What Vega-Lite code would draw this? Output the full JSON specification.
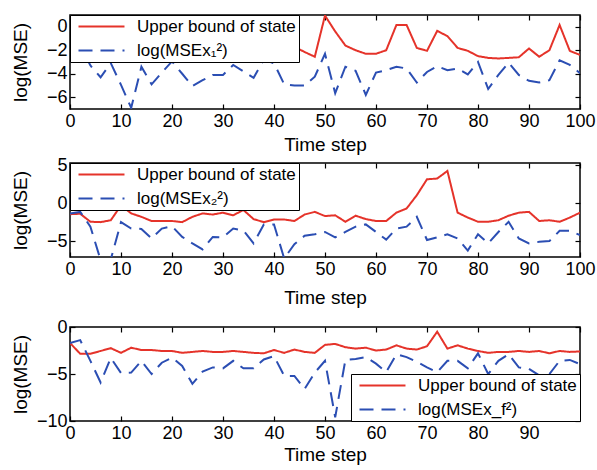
{
  "$schema": "https://vega.github.io/schema/vega-lite/v6.json",
  "padding": {"left": 10, "top": 13, "right": 0, "bottom": 4},
  "background": "white",
  "config": {
    "view": {"stroke": "black", "strokeWidth": 1.5},
    "font": "Liberation Sans",
    "axis": {
      "labelFont": "Liberation Sans", "labelFontSize": 18, "labelColor": "black",
      "titleFont": "Liberation Sans", "titleFontSize": 19, "titleFontWeight": 400, "titleColor": "black",
      "grid": false, "domain": false, "tickColor": "black", "tickSize": -5, "tickWidth": 1.2,
      "labelFlush": false, "labelOverlap": false, "labelPadding": 8
    },
    "legend": {
      "labelFont": "Liberation Sans", "labelFontSize": 17, "labelColor": "black",
      "symbolSize": 36, "symbolStrokeWidth": 2,
      "strokeColor": "black", "fillColor": "white", "padding": 3, "offset": 0,
      "rowPadding": 6, "zindex": 1, "labelOffset": 47, "cornerRadius": 0
    },
    "line": {"strokeWidth": 2}
  },
  "datasets": {
    "p1": [
      {"t":0,"u":-1.6,"m":-1.2},{"t":2,"u":-2.0,"m":-1.6},{"t":4,"u":-1.8,"m":-3.3},{"t":6,"u":-2.1,"m":-4.3},{"t":8,"u":-1.9,"m":-3.1},
      {"t":10,"u":-2.2,"m":-4.95},{"t":12,"u":-1.7,"m":-6.9},{"t":14,"u":-2.0,"m":-3.4},{"t":16,"u":-2.3,"m":-4.9},{"t":18,"u":-1.9,"m":-3.9},
      {"t":20,"u":-2.1,"m":-2.95},{"t":22,"u":-1.8,"m":-4.0},{"t":24,"u":-2.2,"m":-5.05},{"t":26,"u":-2.0,"m":-4.55},{"t":28,"u":-1.7,"m":-4.1},
      {"t":30,"u":-2.1,"m":-4.1},{"t":32,"u":-2.3,"m":-3.25},{"t":34,"u":-1.9,"m":-3.8},{"t":36,"u":-2.0,"m":-4.35},{"t":38,"u":-2.2,"m":-2.8},
      {"t":40,"u":-1.8,"m":-3.1},{"t":42,"u":-2.0,"m":-4.9},{"t":44,"u":-1.7,"m":-5.0},{"t":46,"u":-2.15,"m":-5.0},{"t":48,"u":-2.55,"m":-4.25},
      {"t":50,"u":0.95,"m":-2.3},{"t":52,"u":-0.4,"m":-5.65},{"t":54,"u":-1.6,"m":-3.4},{"t":56,"u":-2.0,"m":-3.75},{"t":58,"u":-2.3,"m":-5.8},
      {"t":60,"u":-2.3,"m":-3.9},{"t":62,"u":-2.0,"m":-3.7},{"t":64,"u":0.15,"m":-3.4},{"t":66,"u":0.15,"m":-3.55},{"t":68,"u":-1.8,"m":-4.75},
      {"t":70,"u":-2.05,"m":-3.85},{"t":72,"u":-0.35,"m":-3.35},{"t":74,"u":-0.8,"m":-3.7},{"t":76,"u":-1.8,"m":-3.55},{"t":78,"u":-2.05,"m":-4.05},
      {"t":80,"u":-2.5,"m":-3.0},{"t":82,"u":-2.65,"m":-5.3},{"t":84,"u":-2.7,"m":-4.1},{"t":86,"u":-2.65,"m":-3.05},{"t":88,"u":-2.6,"m":-4.1},
      {"t":90,"u":-1.85,"m":-4.6},{"t":92,"u":-2.55,"m":-4.75},{"t":94,"u":-2.0,"m":-4.55},{"t":96,"u":0.15,"m":-2.85},{"t":98,"u":-2.05,"m":-3.25},
      {"t":100,"u":-2.4,"m":-3.95}
    ],
    "p2": [
      {"t":0,"u":-1.45,"m":-1.35},{"t":2,"u":-1.4,"m":-1.15},{"t":4,"u":-2.45,"m":-3.1},{"t":6,"u":-2.5,"m":-7.5},{"t":8,"u":-2.25,"m":-7.4},
      {"t":10,"u":-0.3,"m":-2.5},{"t":12,"u":-1.35,"m":-3.35},{"t":14,"u":-1.8,"m":-3.4},{"t":16,"u":-2.35,"m":-4.65},{"t":18,"u":-2.35,"m":-3.35},
      {"t":20,"u":-2.35,"m":-3.05},{"t":22,"u":-2.5,"m":-4.45},{"t":24,"u":-1.8,"m":-5.3},{"t":26,"u":-1.35,"m":-6.1},{"t":28,"u":-1.5,"m":-4.45},
      {"t":30,"u":-1.25,"m":-4.5},{"t":32,"u":-1.6,"m":-3.35},{"t":34,"u":-0.9,"m":-3.6},{"t":36,"u":-2.1,"m":-5.3},{"t":38,"u":-2.5,"m":-2.8},
      {"t":40,"u":-2.15,"m":-2.8},{"t":42,"u":-2.15,"m":-7.3},{"t":44,"u":-2.35,"m":-5.4},{"t":46,"u":-1.5,"m":-4.3},{"t":48,"u":-1.15,"m":-4.1},
      {"t":50,"u":-1.7,"m":-3.8},{"t":52,"u":-1.6,"m":-4.5},{"t":54,"u":-2.45,"m":-3.8},{"t":56,"u":-1.65,"m":-3.1},{"t":58,"u":-2.1,"m":-2.8},
      {"t":60,"u":-2.35,"m":-3.8},{"t":62,"u":-2.35,"m":-4.8},{"t":64,"u":-1.25,"m":-3.35},{"t":66,"u":-0.7,"m":-3.1},{"t":68,"u":1.05,"m":-1.8},
      {"t":70,"u":3.15,"m":-4.85},{"t":72,"u":3.25,"m":-4.5},{"t":74,"u":4.25,"m":-4.1},{"t":76,"u":-1.25,"m":-4.65},{"t":78,"u":-1.9,"m":-6.25},
      {"t":80,"u":-2.45,"m":-4.1},{"t":82,"u":-2.45,"m":-5.3},{"t":84,"u":-2.25,"m":-3.8},{"t":86,"u":-1.65,"m":-2.45},{"t":88,"u":-1.25,"m":-4.65},
      {"t":90,"u":-1.15,"m":-5.3},{"t":92,"u":-2.35,"m":-5.1},{"t":94,"u":-2.25,"m":-5.0},{"t":96,"u":-2.45,"m":-3.65},{"t":98,"u":-1.9,"m":-3.65},
      {"t":100,"u":-1.25,"m":-4.2}
    ],
    "p3": [
      {"t":0,"u":-1.7,"m":-1.7},{"t":2,"u":-2.85,"m":-1.4},{"t":4,"u":-2.85,"m":-3.6},{"t":6,"u":-2.55,"m":-5.9},{"t":8,"u":-2.25,"m":-3.3},
      {"t":10,"u":-2.75,"m":-4.9},{"t":12,"u":-2.2,"m":-4.85},{"t":14,"u":-2.45,"m":-3.6},{"t":16,"u":-2.45,"m":-5.0},{"t":18,"u":-2.55,"m":-3.8},
      {"t":20,"u":-2.55,"m":-3.25},{"t":22,"u":-2.75,"m":-4.15},{"t":24,"u":-2.65,"m":-6.05},{"t":26,"u":-2.55,"m":-4.75},{"t":28,"u":-2.65,"m":-4.3},
      {"t":30,"u":-2.65,"m":-4.4},{"t":32,"u":-2.55,"m":-3.6},{"t":34,"u":-2.65,"m":-4.4},{"t":36,"u":-2.75,"m":-4.4},{"t":38,"u":-2.8,"m":-3.45},
      {"t":40,"u":-2.45,"m":-3.1},{"t":42,"u":-2.75,"m":-5.2},{"t":44,"u":-2.4,"m":-5.2},{"t":46,"u":-2.65,"m":-6.6},{"t":48,"u":-2.75,"m":-4.85},
      {"t":50,"u":-1.9,"m":-3.6},{"t":52,"u":-1.8,"m":-9.6},{"t":54,"u":-2.15,"m":-3.5},{"t":56,"u":-2.3,"m":-3.4},{"t":58,"u":-2.2,"m":-3.2},
      {"t":60,"u":-2.5,"m":-3.9},{"t":62,"u":-2.4,"m":-4.8},{"t":64,"u":-1.95,"m":-2.9},{"t":66,"u":-2.3,"m":-3.2},{"t":68,"u":-2.4,"m":-3.7},
      {"t":70,"u":-2.05,"m":-4.3},{"t":72,"u":-0.5,"m":-4.8},{"t":74,"u":-2.3,"m":-3.6},{"t":76,"u":-1.95,"m":-3.6},{"t":78,"u":-2.3,"m":-4.4},
      {"t":80,"u":-2.55,"m":-2.8},{"t":82,"u":-2.75,"m":-5.0},{"t":84,"u":-2.65,"m":-3.6},{"t":86,"u":-2.65,"m":-2.9},{"t":88,"u":-2.55,"m":-4.3},
      {"t":90,"u":-2.65,"m":-4.45},{"t":92,"u":-2.55,"m":-5.15},{"t":94,"u":-2.8,"m":-5.0},{"t":96,"u":-2.55,"m":-3.6},{"t":98,"u":-2.65,"m":-3.5},
      {"t":100,"u":-2.6,"m":-3.95}
    ]
  },
  "spacing": 0,
  "resolve": {"scale": {"color": "independent", "strokeDash": "independent"}, "legend": {"color": "independent", "strokeDash": "independent"}},
  "vconcat": [
    {
      "width": 510, "height": 94,
      "data": {"name": "p1"},
      "transform": [{"fold": ["u", "m"], "as": ["s", "v"]}],
      "layer": [
        {
          "mark": {"type": "line", "clip": true},
          "encoding": {
            "x": {"field": "t", "type": "quantitative", "scale": {"domain": [0, 100], "nice": false}, "axis": {"orient": "bottom", "values": [0,10,20,30,40,50,60,70,80,90,100], "title": "Time step", "titleFontWeight": 400, "titlePadding": 5}},
            "y": {"field": "v", "type": "quantitative", "scale": {"domain": [-7, 1], "nice": false, "zero": false}, "axis": {"orient": "left", "values": [-6,-4,-2,0], "title": "log(MSE)", "titleFontWeight": 400, "minExtent": 38, "maxExtent": 38, "titlePadding": 2}},
            "color": {"field": "s", "type": "nominal", "sort": ["u", "m"], "scale": {"domain": ["u", "m"], "range": ["#e5332a", "#2b4eb3"]}, "legend": {"title": null, "orient": "top-left", "symbolType": "M-1,0H14.33", "labelExpr": "datum.label == 'u' ? 'Upper bound of state' : 'log(MSEx₁²)'"}},
            "strokeDash": {"field": "s", "type": "nominal", "sort": ["u", "m"], "scale": {"domain": ["u", "m"], "range": [[1, 0], [14, 8]]}, "legend": {"title": null, "orient": "top-left", "symbolType": "M-1,0H14.33", "labelExpr": "datum.label == 'u' ? 'Upper bound of state' : 'log(MSEx₁²)'"}}
          }
        },
        {
          "mark": {"type": "line", "opacity": 0},
          "encoding": {
            "x": {"field": "t", "type": "quantitative", "axis": {"orient": "top", "values": [0,10,20,30,40,50,60,70,80,90,100], "labels": false, "title": null}},
            "y": {"field": "v", "type": "quantitative", "axis": {"orient": "right", "values": [-6,-4,-2,0], "labels": false, "title": null}},
            "detail": {"field": "s"}
          }
        }
      ],
      "resolve": {"axis": {"x": "independent", "y": "independent"}}
    },
    {
      "width": 510, "height": 94,
      "data": {"name": "p2"},
      "transform": [{"fold": ["u", "m"], "as": ["s", "v"]}],
      "layer": [
        {
          "mark": {"type": "line", "clip": true},
          "encoding": {
            "x": {"field": "t", "type": "quantitative", "scale": {"domain": [0, 100], "nice": false}, "axis": {"orient": "bottom", "values": [0,10,20,30,40,50,60,70,80,90,100], "title": "Time step", "titleFontWeight": 400, "titlePadding": 10}},
            "y": {"field": "v", "type": "quantitative", "scale": {"domain": [-7.1, 5.3], "nice": false, "zero": false}, "axis": {"orient": "left", "values": [-5,0,5], "title": "log(MSE)", "titleFontWeight": 400, "minExtent": 38, "maxExtent": 38, "titlePadding": 2}},
            "color": {"field": "s", "type": "nominal", "sort": ["u", "m"], "scale": {"domain": ["u", "m"], "range": ["#e5332a", "#2b4eb3"]}, "legend": {"title": null, "orient": "top-left", "symbolType": "M-1,0H14.33", "labelExpr": "datum.label == 'u' ? 'Upper bound of state' : 'log(MSEx₂²)'"}},
            "strokeDash": {"field": "s", "type": "nominal", "sort": ["u", "m"], "scale": {"domain": ["u", "m"], "range": [[1, 0], [14, 8]]}, "legend": {"title": null, "orient": "top-left", "symbolType": "M-1,0H14.33", "labelExpr": "datum.label == 'u' ? 'Upper bound of state' : 'log(MSEx₂²)'"}}
          }
        },
        {
          "mark": {"type": "line", "opacity": 0},
          "encoding": {
            "x": {"field": "t", "type": "quantitative", "axis": {"orient": "top", "values": [0,10,20,30,40,50,60,70,80,90,100], "labels": false, "title": null}},
            "y": {"field": "v", "type": "quantitative", "axis": {"orient": "right", "values": [-5,0,5], "labels": false, "title": null}},
            "detail": {"field": "s"}
          }
        }
      ],
      "resolve": {"axis": {"x": "independent", "y": "independent"}}
    },
    {
      "width": 510, "height": 94,
      "title": {"text": " ", "fontSize": 9, "offset": 0},
      "data": {"name": "p3"},
      "transform": [{"fold": ["u", "m"], "as": ["s", "v"]}],
      "layer": [
        {
          "mark": {"type": "line", "clip": true},
          "encoding": {
            "x": {"field": "t", "type": "quantitative", "scale": {"domain": [0, 100], "nice": false}, "axis": {"orient": "bottom", "values": [0,10,20,30,40,50,60,70,80,90], "title": "Time step", "titleFontWeight": 400, "titlePadding": 3}},
            "y": {"field": "v", "type": "quantitative", "scale": {"domain": [-10, 0], "nice": false, "zero": false}, "axis": {"orient": "left", "values": [-10,-5,0], "title": "log(MSE)", "titleFontWeight": 400, "minExtent": 38, "maxExtent": 38, "titlePadding": 2}},
            "color": {"field": "s", "type": "nominal", "sort": ["u", "m"], "scale": {"domain": ["u", "m"], "range": ["#e5332a", "#2b4eb3"]}, "legend": {"title": null, "orient": "bottom-right", "symbolType": "M-1,0H14.33", "labelExpr": "datum.label == 'u' ? 'Upper bound of state' : 'log(MSEx_f²)'"}},
            "strokeDash": {"field": "s", "type": "nominal", "sort": ["u", "m"], "scale": {"domain": ["u", "m"], "range": [[1, 0], [14, 8]]}, "legend": {"title": null, "orient": "bottom-right", "symbolType": "M-1,0H14.33", "labelExpr": "datum.label == 'u' ? 'Upper bound of state' : 'log(MSEx_f²)'"}}
          }
        },
        {
          "mark": {"type": "line", "opacity": 0},
          "encoding": {
            "x": {"field": "t", "type": "quantitative", "axis": {"orient": "top", "values": [0,10,20,30,40,50,60,70,80,90,100], "labels": false, "title": null}},
            "y": {"field": "v", "type": "quantitative", "axis": {"orient": "right", "values": [-10,-5,0], "labels": false, "title": null}},
            "detail": {"field": "s"}
          }
        }
      ],
      "resolve": {"axis": {"x": "independent", "y": "independent"}}
    }
  ]
}
